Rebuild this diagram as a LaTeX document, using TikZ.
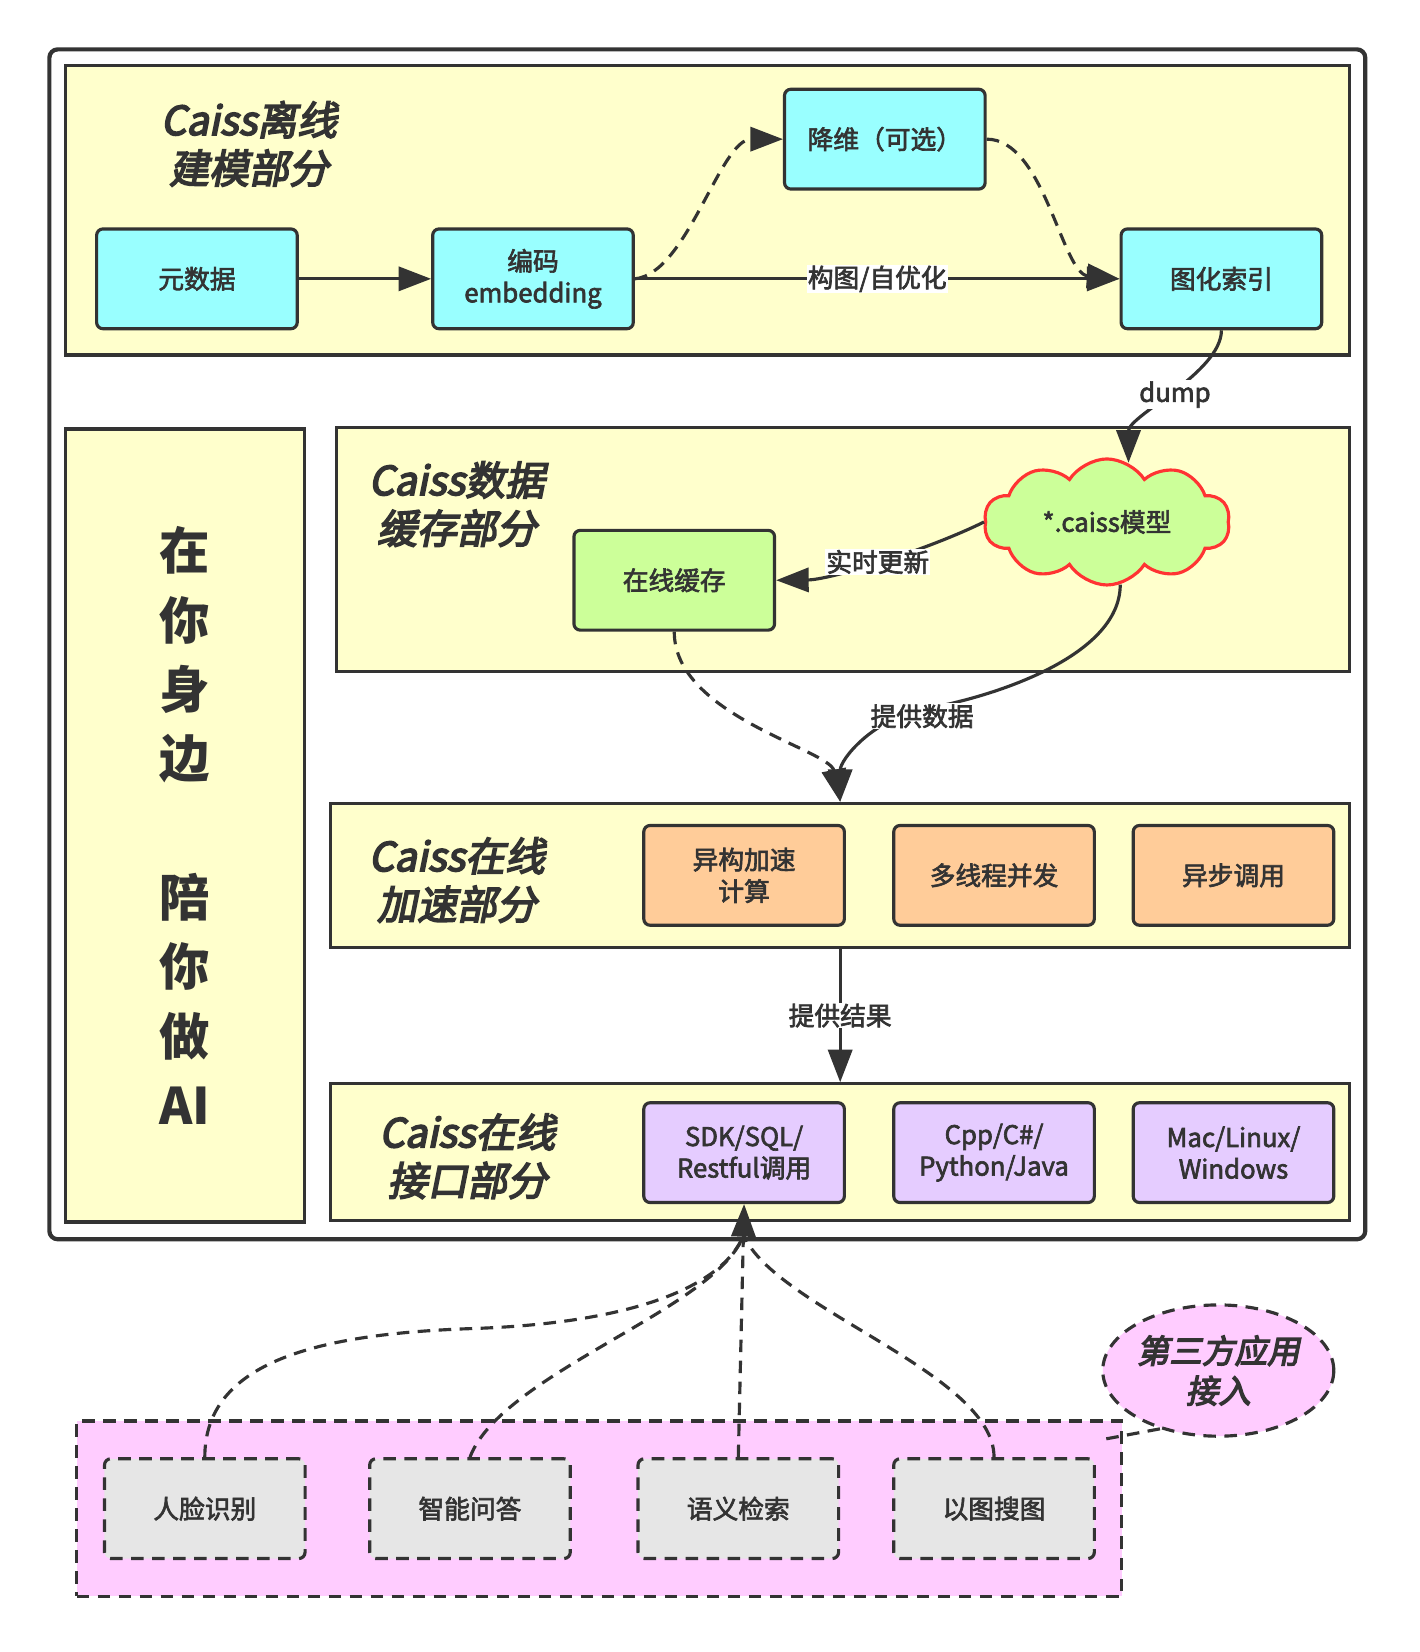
\documentclass[tikz,border=0pt]{standalone}
\usepackage{fontspec}
\setmainfont{Noto Sans CJK SC}
\newfontfamily\cjk{Noto Sans CJK SC}[FakeBold=2.5]
\newfontfamily\cjkit{Noto Sans CJK SC}[FakeSlant=0.2,FakeBold=4]
\newfontfamily\cjkbig{Noto Sans CJK SC}
\usetikzlibrary{arrows.meta,shapes.symbols,shapes.geometric}
\definecolor{dark}{HTML}{333333}
\definecolor{ybg}{HTML}{FFFFCC}
\definecolor{cyanc}{HTML}{99FFFF}
\definecolor{greenc}{HTML}{CCFF99}
\definecolor{orangec}{HTML}{FFCC99}
\definecolor{purplec}{HTML}{E5CCFF}
\definecolor{pinkc}{HTML}{FFCCFF}
\definecolor{grayc}{HTML}{E6E6E6}
\definecolor{redc}{HTML}{FF3333}
\newcommand\ndfont{\cjk\fontsize{24.5}{30}\selectfont}
\newcommand\ttlfont{\cjkit\fontsize{38}{46}\selectfont}
\newcommand\bigfont{\cjkbig\bfseries\fontsize{48}{66}\selectfont}
\tikzset{
  ln/.style={draw=dark, line width=3pt},
  sect/.style={ln, fill=ybg, rectangle, inner sep=0pt},
  nd/.style={ln, rectangle, rounded corners=6pt, minimum width=191pt, minimum height=95pt,
    inner sep=0pt, align=center, font=\ndfont, text=dark},
  ttl/.style={align=center, font=\ttlfont, text=dark, inner sep=0pt},
  arr/.style={draw=dark, line width=3pt, -{Triangle[length=31pt,width=23pt]}},
  plain/.style={draw=dark, line width=3pt},
  dsh/.style={dash pattern=on 12pt off 8pt},
  lbl/.style={fill=white, inner sep=1pt, font=\ndfont, text=dark},
}
\begin{document}
\begin{tikzpicture}[x=1pt,y=-1pt]
\useasboundingbox (0,0) rectangle (1352,1573);
\fill[white] (0,0) rectangle (1352,1573);
% outer frame
\node[draw=dark, line width=4pt, fill=white, rounded corners=8pt, minimum width=1253pt, minimum height=1133pt, inner sep=0pt] (outer) at (673.5,613.5) {};
% sections
\node[sect, minimum width=1223pt, minimum height=276pt] (b1) at (673.5,200) {};
\node[sect, minimum width=965pt, minimum height=232pt] (b2) at (802.5,523) {};
\node[sect, minimum width=970pt, minimum height=137pt] (b3) at (800,833.5) {};
\node[sect, minimum width=970pt, minimum height=130pt] (b4) at (800,1097) {};
\node[sect, minimum width=228pt, minimum height=755pt, align=center, font=\bigfont, text=dark] (bl) at (176,786) {在\\你\\身\\边\\\mbox{}\\陪\\你\\做\\AI};
% titles
\node[ttl] (t1) at (237,137) {Caiss离线\\建模部分};
\node[ttl] (t2) at (435,480) {Caiss数据\\缓存部分};
\node[ttl] (t3) at (435,838) {Caiss在线\\加速部分};
\node[ttl] (t4) at (445,1101) {Caiss在线\\接口部分};
% section 1 nodes
\node[nd, fill=cyanc] (meta) at (187.5,265.5) {元数据};
\node[nd, fill=cyanc] (enc) at (507.5,265.5) {编码\\embedding};
\node[nd, fill=cyanc] (dim) at (842.5,132.5) {降维（可选）};
\node[nd, fill=cyanc] (idx) at (1163,265.5) {图化索引};
% section 2 nodes
\node[nd, fill=greenc] (cache) at (642,552.5) {在线缓存};
\node[cloud, cloud puffs=10, cloud puff arc=115, aspect=2, draw=redc, line width=3pt, fill=greenc,
  minimum width=234pt, minimum height=120pt, inner sep=0pt, font=\ndfont, text=dark] (cld) at (1054,497) {*.caiss模型};
% section 3 nodes
\node[nd, fill=orangec] (a1) at (708.5,833.5) {异构加速\\计算};
\node[nd, fill=orangec] (a2) at (946.5,833.5) {多线程并发};
\node[nd, fill=orangec] (a3) at (1174.5,833.5) {异步调用};
% section 4 nodes
\node[nd, fill=purplec] (i1) at (708.5,1097.5) {SDK/SQL/\\Restful调用};
\node[nd, fill=purplec] (i2) at (946.5,1097.5) {Cpp/C\#/\\Python/Java};
\node[nd, fill=purplec] (i3) at (1174.5,1097.5) {Mac/Linux/\\Windows};
% third party area
\node[ln, dsh, fill=pinkc, minimum width=995pt, minimum height=167pt, inner sep=0pt] (pk) at (570.5,1436.5) {};
\node[nd, dsh, fill=grayc] (p1) at (195,1436.5) {人脸识别};
\node[nd, dsh, fill=grayc] (p2) at (447.5,1436.5) {智能问答};
\node[nd, dsh, fill=grayc] (p3) at (703,1436.5) {语义检索};
\node[nd, dsh, fill=grayc] (p4) at (946.5,1436.5) {以图搜图};
\node[ellipse, ln, dsh, fill=pinkc, minimum width=220pt, minimum height=125pt, inner sep=0pt,
  align=center, font=\cjkit\fontsize{31}{38}\selectfont, text=dark] (call) at (1160,1305) {第三方应用\\接入};
\coordinate (tail) at (1048,1371);
\draw[ln, dsh] (call.225) -- (tail);
% section 1 edges
\draw[arr] (meta.east) -- (enc.west);
\draw[arr] (enc.east) -- node[lbl] {构图/自优化} (idx.west);
\draw[arr, dsh] (enc.east) .. controls +(50,-5) and +(-60,0) .. (dim.west);
\draw[arr, dsh] (dim.east) .. controls +(55,0) and +(-55,-5) .. (idx.west);
\draw[arr] (idx.south) .. controls +(0,40) and +(0,-45) .. node[lbl] {dump} (cld.70);
% section 2 edges
\draw[arr] (cld.west) .. controls (880,525) and (790,552) .. node[lbl] {实时更新} (cache.east);
\draw[arr] (cld.-78) .. controls +(0,70) and +(60,-10) .. (880,675) .. controls +(-50,10) and +(0,-40) .. (b3.north);
\node[lbl] (l2) at (878,682) {提供数据};
\draw[arr, dsh] (cache.south) .. controls +(0,80) and +(-10,-50) .. (b3.north);
% section 3 to 4
\draw[arr] (b3.south) -- node[lbl] {提供结果} (b4.north);
% bottom edges
\coordinate (join) at (708,1176);
\draw[plain, dsh] (p1.north) .. controls +(0,-90) and +(-150,5) .. (450,1265) .. controls +(150,-5) and +(-20,50) .. (join);
\draw[plain, dsh] (p2.north) .. controls +(30,-80) and +(-25,70) .. (join);
\draw[plain, dsh] (p4.north) .. controls +(0,-80) and +(30,70) .. (join);
\draw[arr, dsh] (p3.north) -- (i1.south);
\end{tikzpicture}
\end{document}
